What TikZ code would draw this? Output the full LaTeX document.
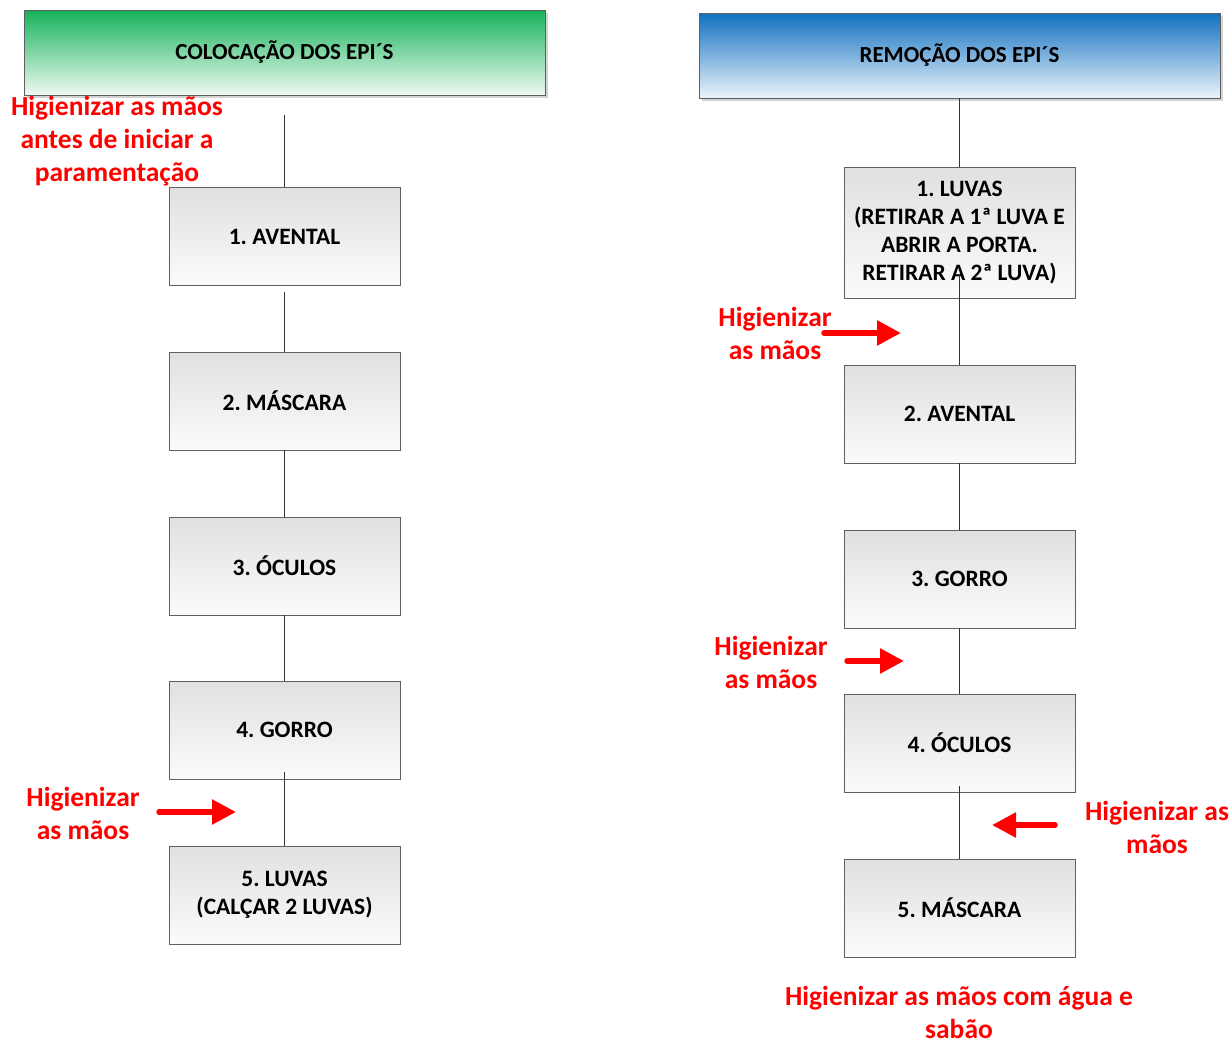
\documentclass[tikz,border=0pt]{standalone}
\usepackage{fontspec}
\setmainfont{Carlito}
\frenchspacing
\usetikzlibrary{arrows.meta,shadows}
\definecolor{boxtop}{RGB}{224,224,224}
\definecolor{boxbot}{RGB}{251,251,251}
\definecolor{boxline}{RGB}{95,95,95}
\definecolor{greentop}{RGB}{22,178,90}
\definecolor{greenbot}{RGB}{238,250,242}
\definecolor{bluetop}{RGB}{16,112,192}
\definecolor{bluebot}{RGB}{236,244,251}
\definecolor{hred}{RGB}{255,0,0}
\tikzset{
  hdr/.style={draw=boxline, line width=0.8pt, minimum width=521pt, minimum height=85pt,
    font=\bfseries\fontsize{23}{28}\selectfont,
    drop shadow={shadow xshift=3pt, shadow yshift=-3pt, opacity=0.35, fill=gray}},
  stepbox/.style={draw=boxline, line width=0.8pt, minimum width=231pt, minimum height=98pt,
    top color=boxtop, bottom color=boxbot, align=center,
    font=\bfseries\fontsize{23.5}{28}\selectfont},
  conn/.style={draw=black!80, line width=1.3pt},
  redtxt/.style={text=hred, align=center, font=\bfseries\fontsize{27.5}{33}\selectfont, inner sep=0pt},
  redarrow/.style={draw=hred, line width=5.5pt, line cap=round,
    -{Triangle[length=24pt,width=24pt]}}
}
\begin{document}
\begin{tikzpicture}[x=1pt,y=-1pt]
\useasboundingbox (0,0) rectangle (1232,1044);
% left column
\node[hdr, top color=greentop, bottom color=greenbot] (lh) at (284.5,52.5) {COLOCAÇÃO DOS EPI´S};
\node[stepbox] (l1) at (284.5,236.5) {1. AVENTAL};
\node[stepbox] (l2) at (284.5,401) {2. MÁSCARA};
\node[stepbox] (l3) at (284.5,566) {3. ÓCULOS};
\node[stepbox] (l4) at (284.5,730) {4. GORRO};
\node[stepbox] (l5) at (284.5,895) {5. LUVAS\\(CALÇAR 2 LUVAS)};
\coordinate (lstart) at (284.5,115);
\draw[conn] (lstart) -- (l1.north);
\draw[conn] ([yshift=-6pt]l1.south) -- (l2.north);
\draw[conn] (l2.south) -- (l3.north);
\draw[conn] (l3.south) -- (l4.north);
\draw[conn] ([yshift=7pt]l4.south) -- (l5.north);
% right column
\node[hdr, top color=bluetop, bottom color=bluebot] (rh) at (959.5,55.5) {REMOÇÃO DOS EPI´S};
\node[stepbox, minimum height=131pt] (r1) at (959.5,232.5) {1. LUVAS\\(RETIRAR A 1ª LUVA E\\ABRIR A PORTA.\\RETIRAR A 2ª LUVA)};
\node[stepbox] (r2) at (959.5,414) {2. AVENTAL};
\node[stepbox] (r3) at (959.5,579) {3. GORRO};
\node[stepbox] (r4) at (959.5,743) {4. ÓCULOS};
\node[stepbox] (r5) at (959.5,908) {5. MÁSCARA};
\draw[conn] (rh.south) -- (r1.north);
\draw[conn] ([yshift=23pt]r1.south) -- (r2.north);
\draw[conn] (r2.south) -- (r3.north);
\draw[conn] (r3.south) -- (r4.north);
\draw[conn] ([yshift=6pt]r4.south) -- (r5.north);
% red texts
\node[redtxt] (t1) at (117,141) {Higienizar as mãos\\antes de iniciar a\\paramentação};
\node[redtxt] (t2) at (83,813) {Higienizar\\as mãos};
\node[redtxt] (t3) at (775,333) {Higienizar\\as mãos};
\node[redtxt] (t4) at (771,662) {Higienizar\\as mãos};
\node[redtxt] (t5) at (1157,827) {Higienizar as\\mãos};
\node[redtxt] (t6) at (959,1012) {Higienizar as mãos com água e\\sabão};
% red arrows
\coordinate (a1s) at (159,812); \coordinate (a1e) at (236,812);
\coordinate (a2s) at (824,333); \coordinate (a2e) at (901,333);
\coordinate (a3s) at (847,661); \coordinate (a3e) at (904,661);
\coordinate (a4s) at (1055,825); \coordinate (a4e) at (992,825);
\draw[redarrow] (a1s) -- (a1e);
\draw[redarrow] (a2s) -- (a2e);
\draw[redarrow] (a3s) -- (a3e);
\draw[redarrow] (a4s) -- (a4e);
\end{tikzpicture}
\end{document}
